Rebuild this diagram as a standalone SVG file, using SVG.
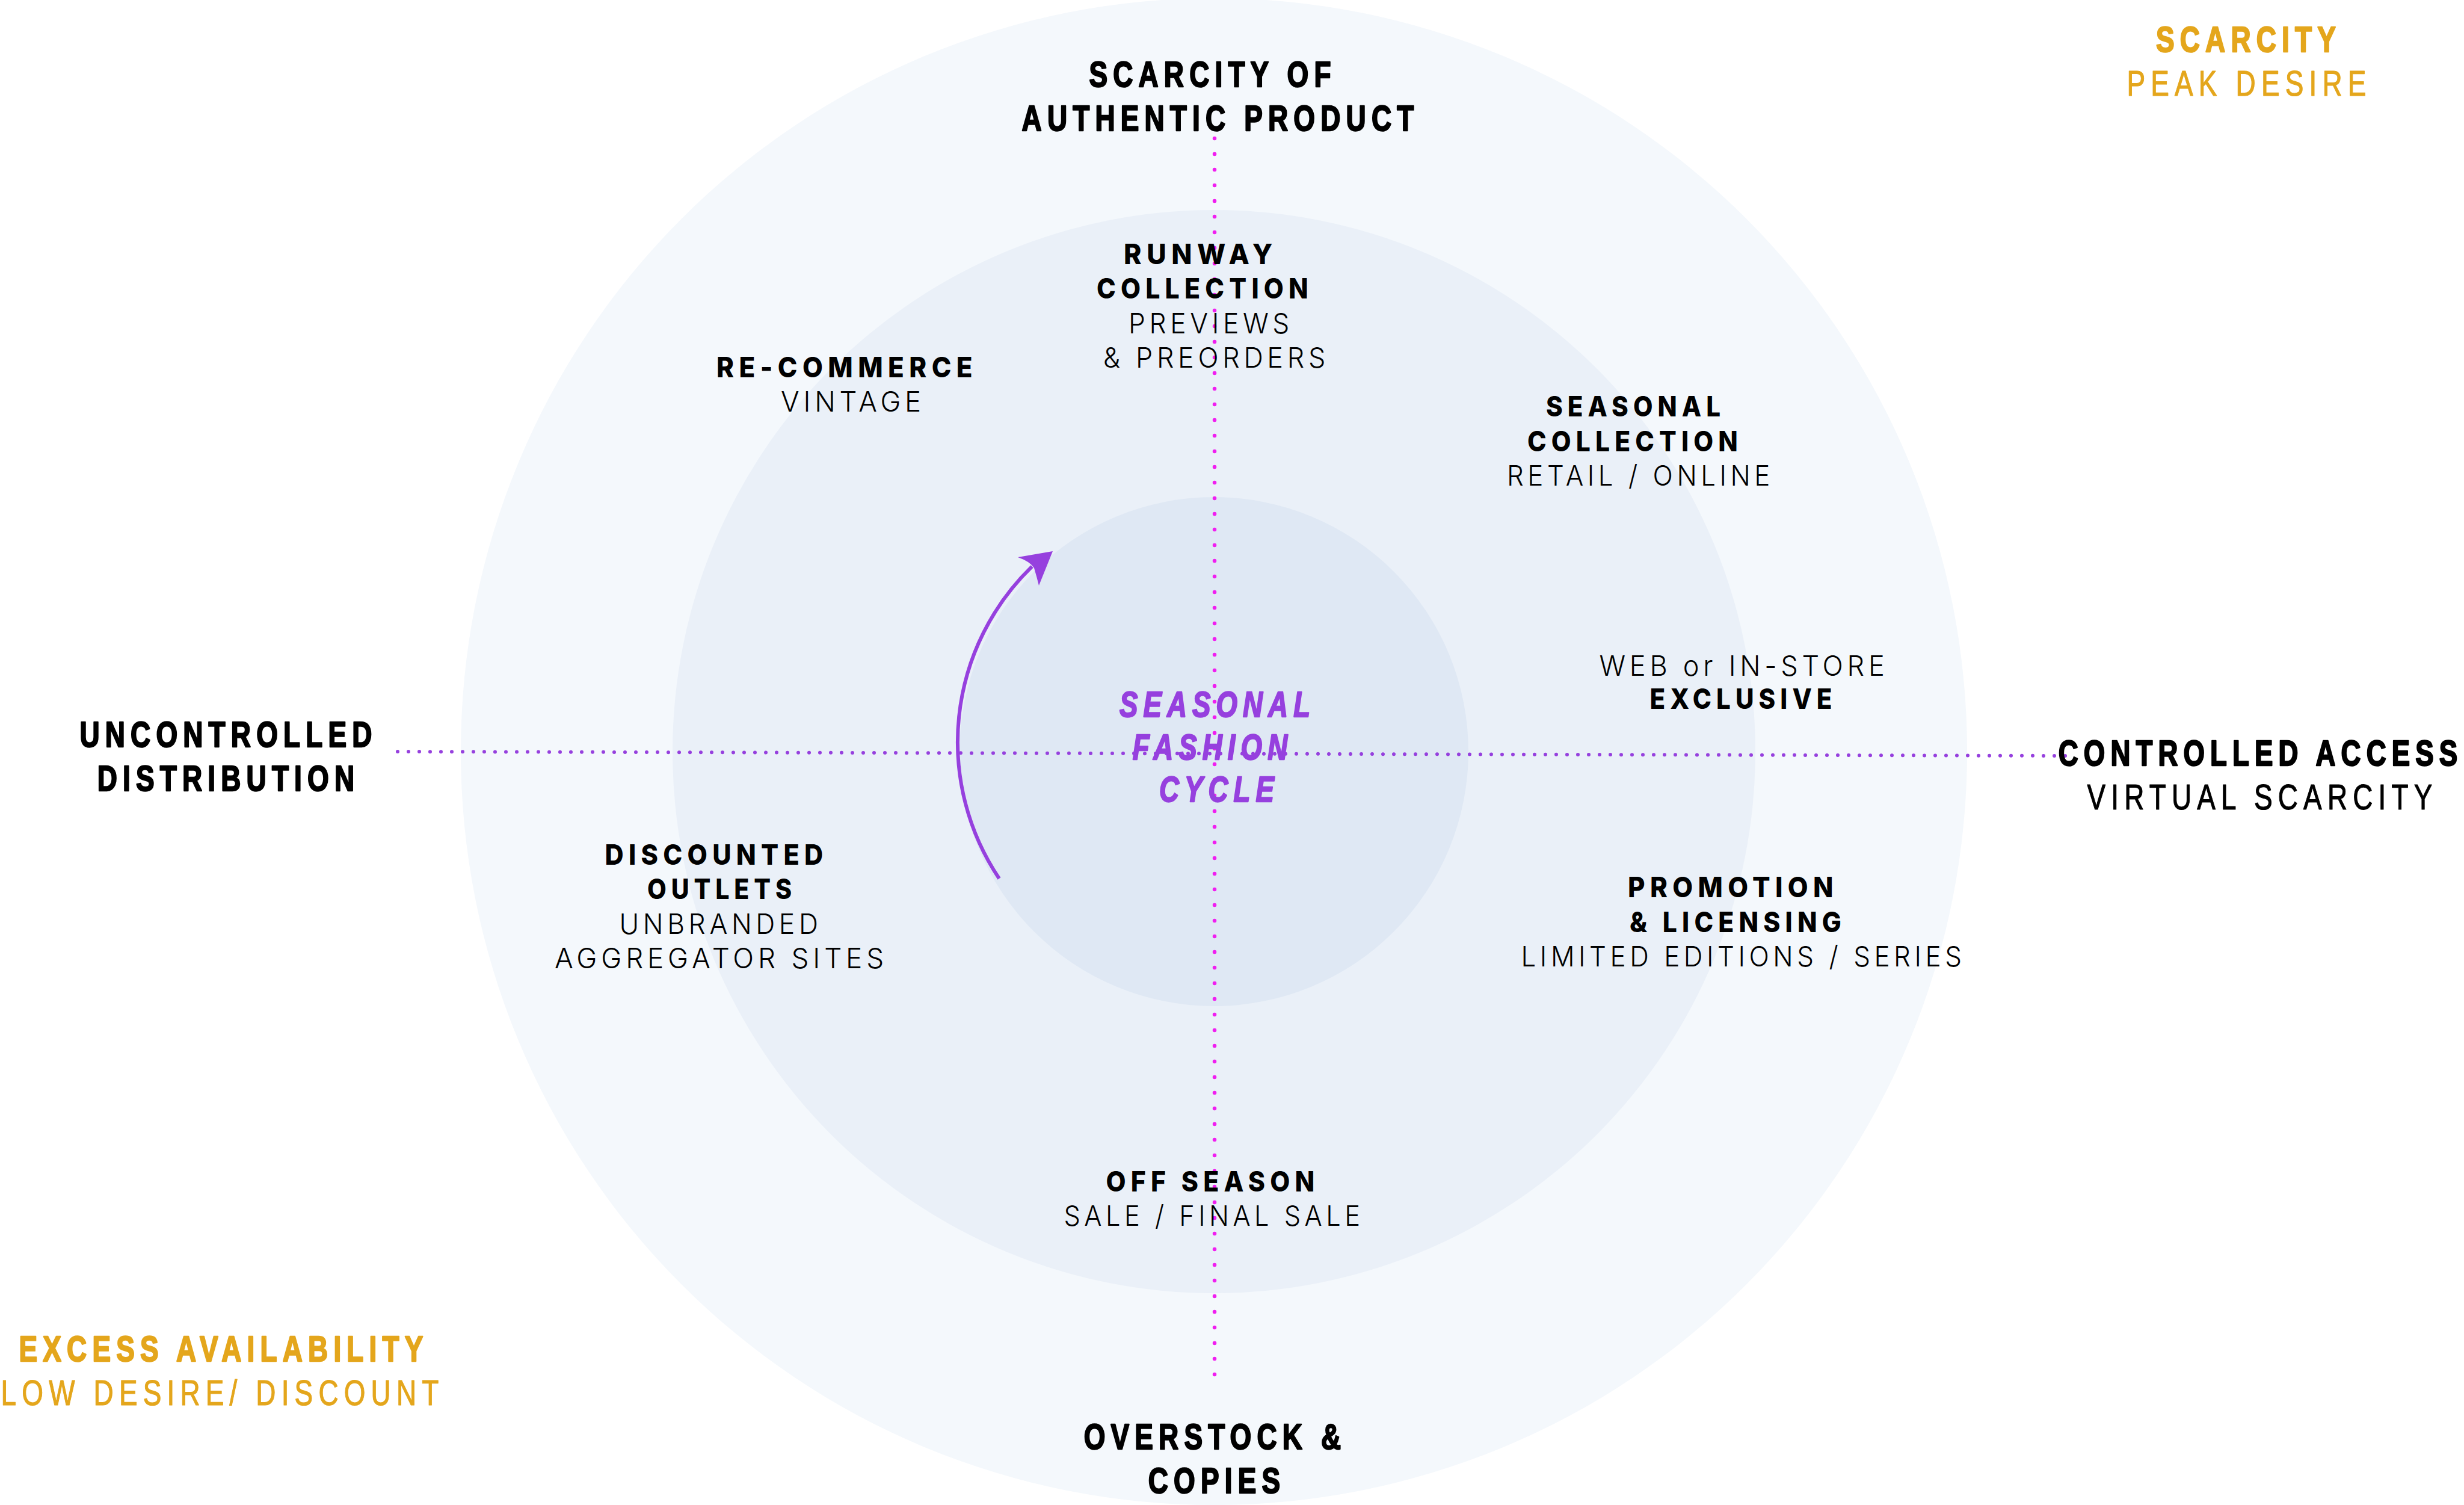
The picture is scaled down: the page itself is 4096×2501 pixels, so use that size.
<svg xmlns="http://www.w3.org/2000/svg" width="4096" height="2501" viewBox="0 0 4096 2501">
<style>
text{text-anchor:middle}
.cb{font-family:"Liberation Sans",Arial,sans-serif;font-weight:700;font-size:60px;letter-spacing:12px;stroke-width:2.4px;stroke-linejoin:round}
.cr{font-family:"Liberation Sans",Arial,sans-serif;font-weight:400;font-size:60px;letter-spacing:12px;stroke-width:1.2px;stroke-linejoin:round}
.ci{font-family:"Liberation Sans",Arial,sans-serif;font-weight:700;font-style:italic;font-size:60px;letter-spacing:12px;fill:#9640DE;stroke:#9640DE;stroke-width:2.4px;stroke-linejoin:round}
.pb{font-family:Inter,"Noto Sans",sans-serif;font-weight:800;font-size:47px;letter-spacing:9px;fill:#000}
.pr{font-family:Inter,"Noto Sans",sans-serif;font-weight:300;font-size:47px;letter-spacing:7px;fill:#000}
.k{fill:#000;stroke:#000}
.o{fill:#E4A61C;stroke:#E4A61C}
</style>
<rect width="4096" height="2501" fill="#FFFFFF"/>
<g id="rings">
<circle cx="2018" cy="1249" r="1252" fill="#F4F8FC"/>
<circle cx="2018" cy="1249" r="900" fill="#EAF0F8"/>
<circle cx="2018" cy="1249" r="423" fill="#DFE8F4"/>
</g>
<g id="connectors">
<line x1="661" y1="1249" x2="3435" y2="1256" stroke="#9640DE" stroke-width="6" stroke-linecap="round" stroke-dasharray="0 18"/>
<line x1="2019" y1="230" x2="2019" y2="2288" stroke="#F01EF0" stroke-width="6.5" stroke-linecap="round" stroke-dasharray="0 26"/>
<g id="cycle-arrow">
<path d="M 1661 1460 A 406.5 406.5 0 0 1 1715.6 941.4" fill="none" stroke="#9640DE" stroke-width="6"/>
<path d="M 1750 916 L 1692 926 Q 1712 933 1718.9 943.5 Q 1723 957 1727 973 Z" fill="#9640DE"/>
</g>
</g>
<g id="node-top">
<text class="cb k" transform="translate(2016,144) scale(0.765,1)">SCARCITY OF</text>
<text class="cb k" transform="translate(2029,217) scale(0.765,1)">AUTHENTIC PRODUCT</text>
</g>
<g id="node-scarcity">
<text class="cb o" transform="translate(3738,86) scale(0.765,1)">SCARCITY</text>
<text class="cr o" transform="translate(3739,159) scale(0.765,1)">PEAK DESIRE</text>
</g>
<g id="node-left">
<text class="cb k" transform="translate(380,1241) scale(0.765,1)">UNCONTROLLED</text>
<text class="cb k" transform="translate(380,1314) scale(0.765,1)">DISTRIBUTION</text>
</g>
<g id="node-right">
<text class="cb k" transform="translate(3758,1272) scale(0.76,1)">CONTROLLED ACCESS</text>
<text class="cr k" transform="translate(3761,1345) scale(0.765,1)">VIRTUAL SCARCITY</text>
</g>
<g id="node-excess">
<text class="cb o" transform="translate(372,2262) scale(0.765,1)">EXCESS AVAILABILITY</text>
<text class="cr o" transform="translate(370,2335) scale(0.765,1)">LOW DESIRE/ DISCOUNT</text>
</g>
<g id="node-bottom">
<text class="cb k" transform="translate(2020,2408) scale(0.765,1)">OVERSTOCK &amp;</text>
<text class="cb k" transform="translate(2023,2481) scale(0.765,1)">COPIES</text>
</g>
<g id="node-center">
<text class="ci" transform="translate(2024,1191) scale(0.76,1)">SEASONAL</text>
<text class="ci" transform="translate(2016,1262) scale(0.76,1)">FASHION</text>
<text class="ci" transform="translate(2027,1332) scale(0.76,1)">CYCLE</text>
</g>
<g id="node-runway">
<text class="pb" x="1996" y="439" textLength="256" lengthAdjust="spacingAndGlyphs">RUNWAY</text>
<text class="pb" x="2003" y="496" textLength="360" lengthAdjust="spacingAndGlyphs">COLLECTION</text>
<text class="pr" x="2013" y="554" textLength="274" lengthAdjust="spacingAndGlyphs">PREVIEWS</text>
<text class="pr" x="2022" y="611" textLength="376" lengthAdjust="spacingAndGlyphs">&amp; PREORDERS</text>
</g>
<g id="node-recommerce">
<text class="pb" x="1408" y="627" textLength="434" lengthAdjust="spacingAndGlyphs">RE-COMMERCE</text>
<text class="pr" x="1418" y="684" textLength="240" lengthAdjust="spacingAndGlyphs">VINTAGE</text>
</g>
<g id="node-seasonal-collection">
<text class="pb" x="2719" y="692" textLength="298" lengthAdjust="spacingAndGlyphs">SEASONAL</text>
<text class="pb" x="2718" y="750" textLength="358" lengthAdjust="spacingAndGlyphs">COLLECTION</text>
<text class="pr" x="2727" y="807" textLength="444" lengthAdjust="spacingAndGlyphs">RETAIL / ONLINE</text>
</g>
<g id="node-exclusive">
<text class="pr" x="2899" y="1123" textLength="481" lengthAdjust="spacingAndGlyphs">WEB or IN-STORE</text>
<text class="pb" x="2898" y="1178" textLength="311" lengthAdjust="spacingAndGlyphs">EXCLUSIVE</text>
</g>
<g id="node-discounted">
<text class="pb" x="1191" y="1437" textLength="371" lengthAdjust="spacingAndGlyphs">DISCOUNTED</text>
<text class="pb" x="1200" y="1494" textLength="248" lengthAdjust="spacingAndGlyphs">OUTLETS</text>
<text class="pr" x="1198" y="1552" textLength="337" lengthAdjust="spacingAndGlyphs">UNBRANDED</text>
<text class="pr" x="1199" y="1609" textLength="554" lengthAdjust="spacingAndGlyphs">AGGREGATOR SITES</text>
</g>
<g id="node-promotion">
<text class="pb" x="2881" y="1491" textLength="350" lengthAdjust="spacingAndGlyphs">PROMOTION</text>
<text class="pb" x="2889" y="1549" textLength="360" lengthAdjust="spacingAndGlyphs">&amp; LICENSING</text>
<text class="pr" x="2898" y="1606" textLength="739" lengthAdjust="spacingAndGlyphs">LIMITED EDITIONS / SERIES</text>
</g>
<g id="node-offseason">
<text class="pb" x="2016" y="1980" textLength="355" lengthAdjust="spacingAndGlyphs">OFF SEASON</text>
<text class="pr" x="2018" y="2037" textLength="499" lengthAdjust="spacingAndGlyphs">SALE / FINAL SALE</text>
</g>
</svg>
